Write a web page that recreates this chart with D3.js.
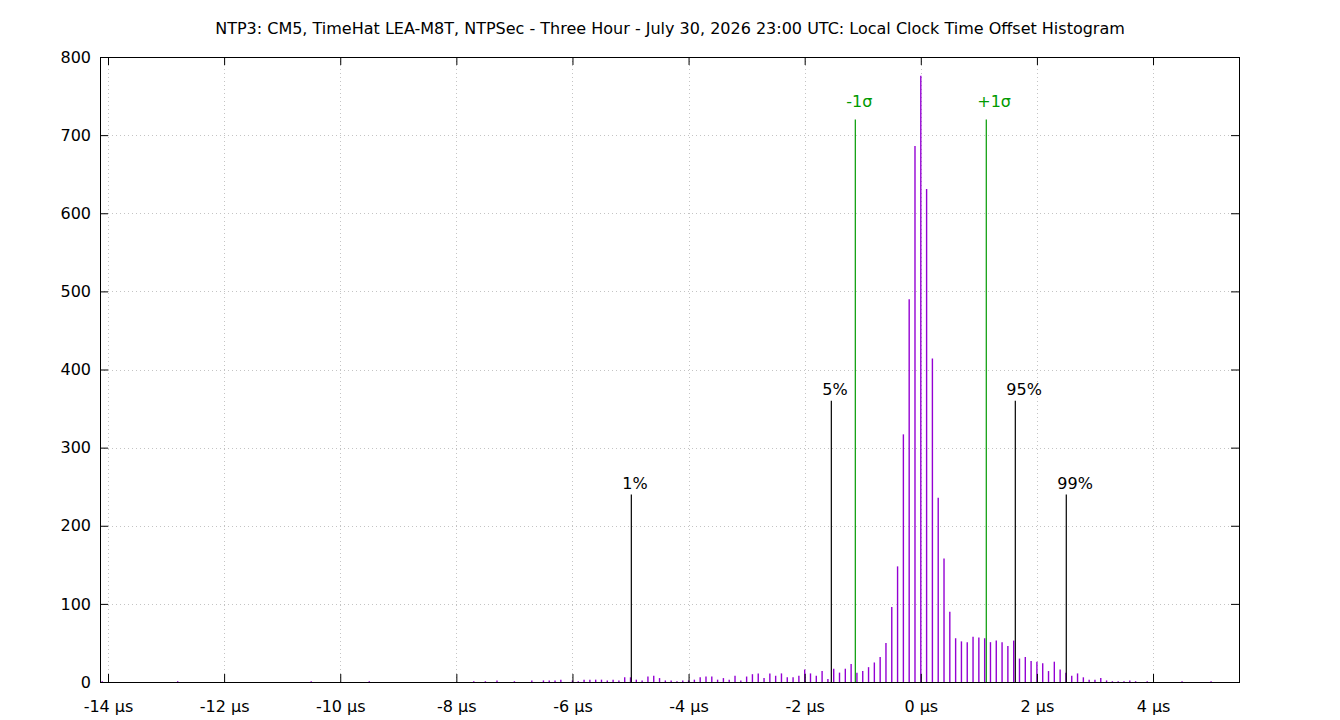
<!DOCTYPE html>
<html>
<head>
<meta charset="utf-8">
<script src="https://cdn.jsdelivr.net/npm/d3@7"></script>
<style>
  body { margin: 0; background: #fff; }
  text { font-family: "DejaVu Sans", sans-serif; font-size: 16px; }
</style>
</head>
<body>
<div id="chart"></div>
<script>
var width = 1340, height = 720;
var margin = {top: 57, right: 101, bottom: 38, left: 100};

var title = "NTP3: CM5, TimeHat LEA-M8T, NTPSec - Three Hour - July 30, 2026 23:00 UTC: Local Clock Time Offset Histogram";

// histogram bins, 0.1 µs wide (only non-empty ones)
var offsets = [-14.1, -12.8, -10.5, -9.5, -7.7, -7.5, -7.3, -7.0, -6.7, -6.5, -6.4, -6.3, -6.2, -6.0,
  -5.9, -5.8, -5.7, -5.6, -5.5, -5.4, -5.3, -5.2, -5.1, -5.0, -4.9, -4.8, -4.7, -4.6, -4.5, -4.4,
  -4.3, -4.2, -4.1, -4.0, -3.9, -3.8, -3.7, -3.6, -3.5, -3.4, -3.3, -3.2, -3.1, -3.0, -2.9, -2.8,
  -2.7, -2.6, -2.5, -2.4, -2.3, -2.2, -2.1, -2.0, -1.9, -1.8, -1.7, -1.6, -1.5, -1.4, -1.3, -1.2,
  -1.1, -1.0, -0.9, -0.8, -0.7, -0.6, -0.5, -0.4, -0.3, -0.2, -0.1, 0.0, 0.1, 0.2, 0.3, 0.4, 0.5,
  0.6, 0.7, 0.8, 0.9, 1.0, 1.1, 1.2, 1.3, 1.4, 1.5, 1.6, 1.7, 1.8, 1.9, 2.0, 2.1, 2.2, 2.3, 2.4,
  2.5, 2.6, 2.7, 2.8, 2.9, 3.0, 3.1, 3.2, 3.3, 3.4, 3.5, 3.6, 3.7, 3.9, 4.5, 5.0];
var counts = [1, 1, 1, 1, 1, 1, 2, 1, 2, 2, 2, 2, 3, 2,
  1, 3, 3, 3, 3, 2, 3, 2, 6, 6, 3, 2, 7, 8, 5, 2,
  2, 1, 2, 2, 3, 6, 7, 7, 3, 5, 3, 8, 2, 7, 10, 11,
  5, 11, 8, 11, 6, 6, 8, 16, 11, 8, 14, 4, 17, 12, 17, 23,
  12, 14, 19, 25, 32, 50, 96, 148, 317, 490, 686, 776, 631, 414, 236, 158, 90,
  56, 52, 51, 58, 57, 56, 51, 53, 51, 46, 53, 30, 32, 27, 26, 24, 14, 26, 16,
  12, 8, 11, 6, 3, 3, 5, 2, 1, 1, 1, 2, 1, 1, 1, 1];

// percentile and sigma markers
var markerNames = ["1%", "5%", "-1σ", "+1σ", "95%", "99%"];
var markerValues = [-4.986, -1.541, -1.128, 1.128, 1.628, 2.506];
var markerHeights = [240, 360, 720, 720, 360, 240];

var xTicks = [-14, -12, -10, -8, -6, -4, -2, 0, 2, 4];
var yTicks = [0, 100, 200, 300, 400, 500, 600, 700, 800];

var x = d3.scaleLinear()
    .domain([-14.138, 5.481])
    .range([margin.left, width - margin.right]);
var y = d3.scaleLinear()
    .domain([0, 800])
    .range([height - margin.bottom, margin.top]);

var svg = d3.select("#chart").append("svg")
    .attr("width", width)
    .attr("height", height);

svg.append("text")
    .attr("x", 670)
    .attr("y", 34)
    .attr("text-anchor", "middle")
    .text(title);

// grid
var grid = svg.append("g").attr("stroke", "#c4c4c4").attr("stroke-width", 1).attr("stroke-dasharray", "1,3");
grid.selectAll(".gx").data(xTicks).enter().append("line")
    .attr("x1", d => Math.round(x(d)) + 0.5).attr("x2", d => Math.round(x(d)) + 0.5)
    .attr("y1", y(0)).attr("y2", y(800));
grid.selectAll(".gy").data(yTicks.slice(1, -1)).enter().append("line")
    .attr("x1", x.range()[0]).attr("x2", x.range()[1])
    .attr("y1", d => Math.round(y(d)) + 0.5).attr("y2", d => Math.round(y(d)) + 0.5);

// histogram impulses
svg.append("g")
    .selectAll("line")
    .data(offsets)
    .enter().append("line")
      .attr("x1", d => x(d)).attr("x2", d => x(d))
      .attr("y1", y(0))
      .attr("y2", (d, i) => y(counts[i]))
      .attr("stroke", "#9400d3")
      .attr("stroke-width", 1.4);

// marker lines + labels
var isSigma = name => name.indexOf("σ") >= 0;
var markers = svg.append("g")
    .selectAll("g")
    .data(markerNames)
    .enter().append("g");
markers.append("line")
    .attr("x1", (d, i) => x(markerValues[i])).attr("x2", (d, i) => x(markerValues[i]))
    .attr("y1", y(0))
    .attr("y2", (d, i) => y(markerHeights[i]))
    .attr("stroke", d => isSigma(d) ? "#009a00" : "#000")
    .attr("stroke-width", 1.2);
markers.append("text")
    .attr("x", (d, i) => x(markerValues[i]) - 9)
    .attr("y", (d, i) => y(markerHeights[i]) - (isSigma(d) ? 13 : 6))
    .attr("fill", d => isSigma(d) ? "#009a00" : "#000")
    .text(d => d);

// axes, ticks pointing inward and mirrored
var fmt = d => (d < 0 ? "-" + Math.abs(d) : d) + " µs";
var axBottom = svg.append("g")
    .attr("transform", "translate(0," + y(0) + ")")
    .call(d3.axisBottom(x).tickValues(xTicks).tickFormat(fmt).tickSizeInner(-8).tickSizeOuter(0).tickPadding(19));
var axTop = svg.append("g")
    .attr("transform", "translate(0," + y(800) + ")")
    .call(d3.axisTop(x).tickValues(xTicks).tickFormat("").tickSizeInner(-8).tickSizeOuter(0));
var axLeft = svg.append("g")
    .attr("transform", "translate(" + x.range()[0] + ",0)")
    .call(d3.axisLeft(y).tickValues(yTicks).tickSizeInner(-8).tickSizeOuter(0).tickPadding(9));
var axRight = svg.append("g")
    .attr("transform", "translate(" + x.range()[1] + ",0)")
    .call(d3.axisRight(y).tickValues(yTicks).tickFormat("").tickSizeInner(-8).tickSizeOuter(0));

[axBottom, axTop, axLeft, axRight].forEach(function(g) {
  g.select(".domain").remove();
  g.selectAll("text").attr("font-size", "16px").attr("font-family", "DejaVu Sans, sans-serif").attr("fill", "#000");
  g.selectAll("line").attr("stroke", "#000");
});

svg.append("rect")
    .attr("x", x.range()[0] + 0.5).attr("y", y(800) + 0.5)
    .attr("width", x.range()[1] - x.range()[0]).attr("height", y(0) - y(800))
    .attr("fill", "none").attr("stroke", "#000").attr("stroke-width", 1);
</script>
</body>
</html>
